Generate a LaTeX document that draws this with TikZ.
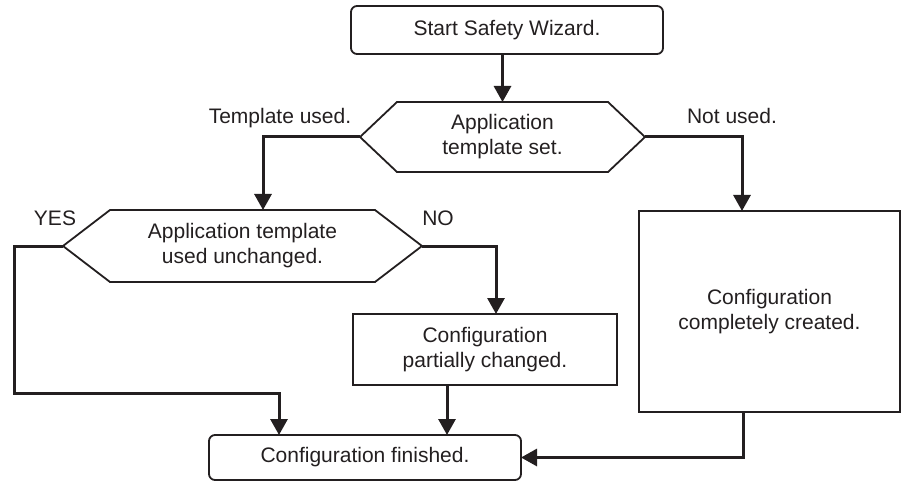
\documentclass[tikz,border=0pt]{standalone}
\usepackage{fontspec}
\setmainfont{Liberation Sans}
\usetikzlibrary{arrows.meta}
\definecolor{ink}{HTML}{231F20}
\begin{document}
\begin{tikzpicture}[x=1pt,y=-1pt,
  every node/.style={font=\fontsize{21}{25}\selectfont, text=ink, align=center, inner sep=0pt, outer sep=0pt},
  boxline/.style={draw=ink, line width=1.8pt},
  roundbox/.style={boxline, rounded corners=6pt},
  plainbox/.style={boxline},
  hexarea/.style={},
  arr/.style={draw=ink, line width=3pt, -{Triangle[width=17pt,length=16pt]}},
  lbl/.style={}
]
\useasboundingbox (0,0) rectangle (902,481);

% nodes
\node[roundbox, minimum width=312pt, minimum height=48pt] (start) at (507,30) {Start Safety Wizard.};
\node[hexarea, minimum width=285pt, minimum height=70pt] (d1) at (502.5,137) {Application\\template set.};
\node[hexarea, minimum width=359pt, minimum height=72pt] (d2) at (242.5,246) {Application template\\used unchanged.};
\node[plainbox, minimum width=264pt, minimum height=71pt] (partial) at (485,349.5) {Configuration\\partially changed.};
\node[plainbox, minimum width=261pt, minimum height=201pt] (big) at (769.5,311.5) {Configuration\\completely created.};
\node[roundbox, minimum width=312pt, minimum height=45pt] (finish) at (365,457.5) {Configuration finished.};

% hexagon outlines
\draw[boxline, line join=miter] (d1.west) -- ([xshift=37pt]d1.north west) -- ([xshift=-37pt]d1.north east) -- (d1.east)
  -- ([xshift=-37pt]d1.south east) -- ([xshift=37pt]d1.south west) -- cycle;
\draw[boxline, line join=miter] (d2.west) -- ([xshift=47pt]d2.north west) -- ([xshift=-47pt]d2.north east) -- (d2.east)
  -- ([xshift=-47pt]d2.south east) -- ([xshift=47pt]d2.south west) -- cycle;

% labels
\node[lbl] (ltpl) at (280,118) {Template used.};
\node[lbl] (lnot) at (732,116) {Not used.};
\node[lbl] (lyes) at (55,218) {YES};
\node[lbl] (lno) at (438,218) {NO};

% helper coordinates
\coordinate (yesdown) at (14,393);
\coordinate (finA) at ([xshift=-86pt]finish.north);
\coordinate (finB) at ([xshift=82pt]finish.north);

% connectors
\draw[arr] (d1.north |- start.south) -- (d1.north);
\draw[arr] (d1.west) -| ([xshift=20.5pt]d2.north);
\draw[arr] (d1.east) -| ([xshift=-27.5pt]big.north);
\draw[arr] (d2.west) -| (yesdown) -| (finA);
\draw[arr] (d2.east) -| ([xshift=11pt]partial.north);
\draw[arr] (finB |- partial.south) -- (finB);
\draw[arr] ([xshift=-26.5pt]big.south) |- (finish.east);
\end{tikzpicture}
\end{document}
